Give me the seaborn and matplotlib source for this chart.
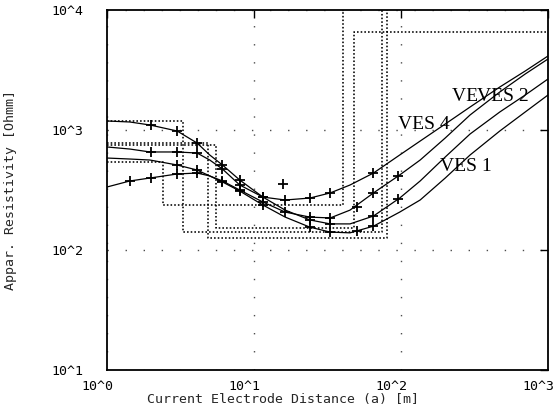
import numpy as np
import pandas as pd
import matplotlib
matplotlib.use("Agg")
import matplotlib.pyplot as plt
import matplotlib.transforms as mtransforms
from matplotlib.ticker import FixedLocator, FixedFormatter, LogLocator, NullFormatter
import seaborn as sns

# ---------------- data ----------------
a_model = [1.0, 1.43, 1.96, 3.0, 4.1, 5.0, 6.1, 8.0, 11.5, 16.3, 24, 33, 45, 65,
           98, 135, 200, 295, 470, 700, 1000]

ves4_model = [1189, 1166, 1101, 981, 779, 619, 511, 383, 276, 215, 178, 165, 165, 192,
              271, 376, 596, 926, 1413, 1957, 2661]
ves2_model = [722, 694, 656, 656, 643, 562, 473, 348, 276, 261, 271, 299, 348, 438,
              619, 809, 1122, 1554, 2282, 3102, 4138]
ves1_model = [584, 573, 562, 511, 464, 414, 369, 310, 237, 188, 155, 141, 139, 158,
              207, 261, 398, 619, 981, 1413, 1957]
ves3_model = [335, 376, 398, 430, 438, 414, 376, 316, 251, 207, 188, 185, 215, 299,
              422, 562, 858, 1334, 2074, 2929, 3906]

# measured apparent resistivities (+ markers)
ves4_a = [2.0, 3.0, 4.1, 6.1, 8.0, 11.5, 15.7, 24, 33, 65, 95]
ves4_rho = [1101, 981, 779, 511, 383, 276, 355, 178, 165, 192, 265]
ves2_a = [2.0, 3.0, 4.1, 6.1, 8.0, 11.5, 16.3, 24, 33, 65]
ves2_rho = [656, 656, 643, 473, 348, 276, 261, 271, 299, 438]
ves1_a = [3.0, 4.1, 6.1, 8.0, 11.5, 24, 33, 50, 65]
ves1_rho = [511, 464, 369, 310, 237, 155, 141, 145, 158]
ves3_a = [1.43, 2.0, 3.0, 4.1, 6.1, 8.0, 11.5, 16.3, 24, 33, 50, 65, 95]
ves3_rho = [376, 398, 430, 438, 376, 316, 251, 207, 188, 185, 230, 299, 415]

# layered models: [rho1, h1, rho2, h2, rho3]
model_rho1 = [1189, 779, 541, 750]
model_h1 = [3.29, 4.86, 2.40, 5.51]
model_rho2 = [141, 126, 237, 153]
model_h2 = [74.3, 80.3, 40.3, 47.9]
model_rho3 = [20000, 20000, 20000, 6560]

labels = ["VES 4", "VES 3", "VES 2", "VES 1"]
label_a = [95, 222, 329, 184]
label_rho = [1101, 1884, 1884, 501]

x_ticks = [1, 10, 100, 1000]
x_tick_labels = ["10^0", "10^1", "10^2", "10^3"]
y_ticks = [10, 100, 1000, 10000]
y_tick_labels = ["10^1", "10^2", "10^3", "10^4"]

x_title = "Current Electrode Distance (a) [m]"
y_title = "Appar. Resistivity [Ohmm]"

# ---------------- plotting ----------------
sns.set_style("white")
plt.rcParams['font.family'] = ['DejaVu Sans Mono']

fig = plt.figure(figsize=(5.54, 4.17), dpi=100)
ax = fig.add_axes([107 / 554, 47 / 417, 441 / 554, 360 / 417])
ax.set_xscale('log')
ax.set_yscale('log')
ax.set_xlim(1, 1000)
ax.set_ylim(10, 10000)

# sparse dotted grid
ax.grid(True, which='major', linestyle=(0, (1, 12)), linewidth=1.0, color='0.3')

# dotted model boxes
for r1, h1, r2, h2, r3 in zip(model_rho1, model_h1, model_rho2, model_h2, model_rho3):
    xs = [1, h1, h1, h2, h2, 1000]
    ys = [r1, r1, r2, r2, r3, r3]
    ax.plot(xs, ys, linestyle=(0, (1, 1.3)), linewidth=1.15, color='k', zorder=1.2)

# labels (below curves so lines pass over)
for i, (t, xa, yr) in enumerate(zip(labels, label_a, label_rho)):
    bbox = dict(facecolor='white', edgecolor='none', pad=0) if t == "VES 2" else None
    ax.text(xa, yr, t, family='Liberation Serif', fontsize=14, ha='left', va='center',
            color='k', zorder=1.5, bbox=bbox)

# model curves
for ys in [ves4_model, ves2_model, ves1_model, ves3_model]:
    sns.lineplot(x=a_model, y=ys, sort=False, estimator=None, color='k',
                 linewidth=0.9, ax=ax, zorder=2)

# measured points
for xa, yr in [(ves4_a, ves4_rho), (ves2_a, ves2_rho), (ves1_a, ves1_rho), (ves3_a, ves3_rho)]:
    sns.scatterplot(x=xa, y=yr, marker='+', s=45, color='k', linewidth=1.3, ax=ax, zorder=3)

# ticks
ax.xaxis.set_major_locator(FixedLocator(x_ticks))
ax.xaxis.set_major_formatter(FixedFormatter(x_tick_labels))
ax.yaxis.set_major_locator(FixedLocator(y_ticks))
ax.yaxis.set_major_formatter(FixedFormatter(y_tick_labels))
ax.xaxis.set_minor_locator(LogLocator(base=10, subs=np.arange(2, 10), numticks=20))
ax.yaxis.set_minor_locator(LogLocator(base=10, subs=np.arange(2, 10), numticks=20))
ax.xaxis.set_minor_formatter(NullFormatter())
ax.yaxis.set_minor_formatter(NullFormatter())

ax.tick_params(which='major', direction='in', length=6, width=1.0, top=True, right=True,
               labelsize=9.5, colors='k')
ax.tick_params(which='minor', direction='in', length=3.5, width=0.9, top=False, right=False)
ax.tick_params(axis='x', which='major', pad=7)
ax.tick_params(axis='y', which='major', pad=17)

offset = mtransforms.ScaledTranslation(-10 / 100, 0, fig.dpi_scale_trans)
for lbl in ax.get_xticklabels():
    lbl.set_transform(lbl.get_transform() + offset)

for s in ax.spines.values():
    s.set_linewidth(1.3)
    s.set_color('k')

ax.set_xlabel(x_title, fontsize=9.5)
ax.set_ylabel(y_title, fontsize=9.5)
ax.xaxis.set_label_coords(0.399, -0.064)
ax.yaxis.set_label_coords(-0.205, 0.5)

fig.savefig("out.png", dpi=100, facecolor='white')
